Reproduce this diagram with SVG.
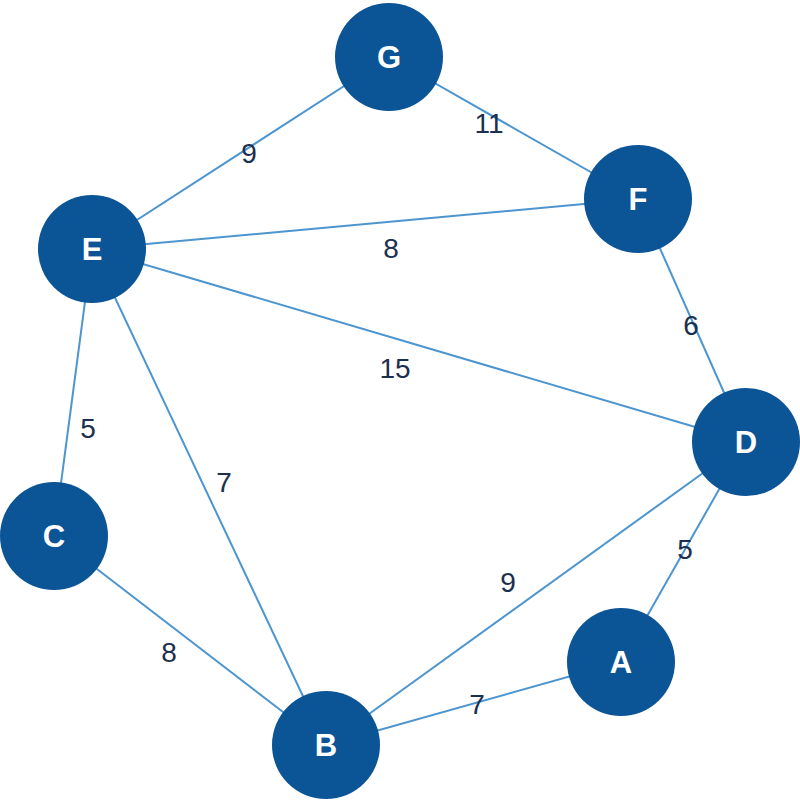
<svg xmlns="http://www.w3.org/2000/svg" width="800" height="800" viewBox="0 0 800 800">
<style>
.edge{stroke:#4c95cf;stroke-width:2;fill:none}
.node circle{fill:#0b5496}
.node text{fill:#fff;font-family:"Liberation Sans",Arial,sans-serif;font-weight:bold;font-size:31px;text-anchor:middle}
.lbl{fill:#1b2f4e;font-family:"Liberation Sans",Arial,sans-serif;font-size:28px;text-anchor:middle}
</style>
<rect width="800" height="800" fill="#fff"/>
<g id="connectors">
<line class="edge" x1="389" y1="57" x2="92" y2="249"/>
<line class="edge" x1="389" y1="57" x2="638" y2="199"/>
<line class="edge" x1="92" y1="249" x2="638" y2="199"/>
<line class="edge" x1="92" y1="249" x2="746" y2="442"/>
<line class="edge" x1="92" y1="249" x2="54" y2="536"/>
<line class="edge" x1="92" y1="249" x2="326" y2="745"/>
<line class="edge" x1="54" y1="536" x2="326" y2="745"/>
<line class="edge" x1="326" y1="745" x2="746" y2="442"/>
<line class="edge" x1="326" y1="745" x2="621" y2="662"/>
<line class="edge" x1="621" y1="662" x2="746" y2="442"/>
<line class="edge" x1="638" y1="199" x2="746" y2="442"/>
</g>
<g id="labels">
<text class="lbl" x="249" y="163">9</text>
<text class="lbl" x="489" y="133">11</text>
<text class="lbl" x="391" y="258">8</text>
<text class="lbl" x="395" y="378">15</text>
<text class="lbl" x="691" y="335">6</text>
<text class="lbl" x="88" y="438">5</text>
<text class="lbl" x="224" y="492">7</text>
<text class="lbl" x="508" y="592">9</text>
<text class="lbl" x="685" y="559">5</text>
<text class="lbl" x="169" y="662">8</text>
<text class="lbl" x="477" y="714">7</text>
</g>
<g id="G" class="node"><circle cx="389" cy="57" r="54"/><text x="389" y="68">G</text></g>
<g id="F" class="node"><circle cx="638" cy="199" r="54"/><text x="638" y="210">F</text></g>
<g id="E" class="node"><circle cx="92" cy="249" r="54"/><text x="92" y="260">E</text></g>
<g id="D" class="node"><circle cx="746" cy="442" r="54"/><text x="746" y="453">D</text></g>
<g id="C" class="node"><circle cx="54" cy="536" r="54"/><text x="54" y="547">C</text></g>
<g id="A" class="node"><circle cx="621" cy="662" r="54"/><text x="621" y="673">A</text></g>
<g id="B" class="node"><circle cx="326" cy="745" r="54"/><text x="326" y="756">B</text></g>
</svg>
